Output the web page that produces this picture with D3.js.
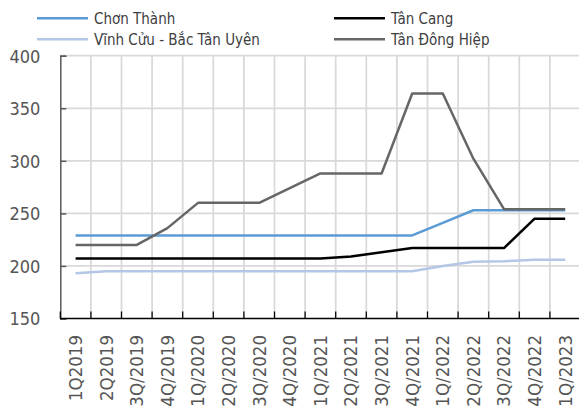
<!DOCTYPE html>
<html>
<head>
<meta charset="utf-8">
<script src="https://cdn.jsdelivr.net/npm/d3@7"></script>
<style>
  body { margin: 0; background: #fff; }
  svg { display: block; }
  text { font-family: "DejaVu Sans Condensed", "DejaVu Sans", sans-serif; font-stretch: condensed; }
</style>
</head>
<body>
<svg id="chart" width="579" height="407"></svg>
<script>
// Quarterly land rental prices by industrial park
const quarters = ["1Q2019", "2Q2019", "3Q/2019", "4Q/2019", "1Q/2020", "2Q/2020", "3Q/2020", "4Q/2020",
  "1Q/2021", "2Q/2021", "3Q/2021", "4Q/2021", "1Q/2022", "2Q/2022", "3Q/2022", "4Q/2022", "1Q/2023"];

const chonThanh = [229, 229, 229, 229, 229, 229, 229, 229, 229, 229, 229, 229, 241, 253, 253, 253, 253];
const tanCang = [207, 207, 207, 207, 207, 207, 207, 207, 207, 209, 213, 217, 217, 217, 217, 245, 245];
const vinhCuu = [193, 195, 195, 195, 195, 195, 195, 195, 195, 195, 195, 195, 200, 204, 204.5, 206, 206];
const tanDongHiep = [220, 220, 220, 236, 260, 260, 260, 274, 288, 288, 288, 364, 364, 302, 254, 254, 254];

const seriesNames = ["Chơn Thành", "Tân Cang", "Vĩnh Cửu - Bắc Tân Uyên", "Tân Đông Hiệp"];
const seriesValues = [chonThanh, tanCang, vinhCuu, tanDongHiep];
const seriesColors = ["#5b9bd5", "#000000", "#b4c7e7", "#666666"];

const yTicks = [150, 200, 250, 300, 350, 400];

const svg = d3.select("#chart");
const W = 579;
const plotLeft = 60.3, plotTop = 55.7, plotBottom = 318.5, step = 30.6;

const x = d3.scaleBand().domain(quarters).range([plotLeft, plotLeft + step * quarters.length]).padding(0);
const y = d3.scaleLinear().domain([150, 400]).range([plotBottom, plotTop]);

// horizontal gridlines
svg.append("g").selectAll("line").data(yTicks.slice(1)).join("line")
  .attr("x1", plotLeft).attr("x2", W)
  .attr("y1", d => y(d)).attr("y2", d => y(d))
  .attr("stroke", "#d9d9d9").attr("stroke-width", 1.75);

// vertical gridlines at category boundaries
svg.append("g").selectAll("line").data(quarters.slice(1)).join("line")
  .attr("x1", d => x(d)).attr("x2", d => x(d))
  .attr("y1", plotTop).attr("y2", plotBottom)
  .attr("stroke", "#d9d9d9").attr("stroke-width", 1.75);

// y axis
const yAxis = svg.append("g")
  .attr("transform", `translate(${plotLeft},0)`)
  .call(d3.axisRight(y).tickValues(yTicks).tickSize(6).tickFormat(d3.format("d")));
yAxis.select(".domain").attr("stroke", "#595959").attr("stroke-width", 1.5);
yAxis.selectAll(".tick line").attr("stroke", "#595959").attr("stroke-width", 1.5);
yAxis.selectAll(".tick text")
  .attr("x", -20).attr("text-anchor", "end").attr("dy", "0.35em")
  .attr("fill", "#555555").style("font-size", "18px");

// x axis with ticks at category boundaries
const xAxis = svg.append("g").attr("transform", `translate(0,${plotBottom})`);
xAxis.append("line").attr("x1", plotLeft).attr("x2", W).attr("y1", 0).attr("y2", 0)
  .attr("stroke", "#000").attr("stroke-width", 1.5);
xAxis.selectAll("line.tk").data(quarters).join("line").attr("class", "tk")
  .attr("x1", d => x(d)).attr("x2", d => x(d)).attr("y1", 0).attr("y2", -7)
  .attr("stroke", "#000").attr("stroke-width", 1.25);
xAxis.selectAll("text").data(quarters).join("text")
  .attr("transform", d => `translate(${x(d) + x.bandwidth() / 2},16.5) rotate(-90)`)
  .attr("text-anchor", "end").attr("dy", "0.35em")
  .attr("fill", "#555555").style("font-size", "18.5px")
  .text(d => d);

// series lines
const line = d3.line()
  .x((d, i) => x(quarters[i]) + x.bandwidth() / 2)
  .y(d => y(d));
svg.append("g").selectAll("path").data(seriesValues).join("path")
  .attr("d", d => line(d))
  .attr("fill", "none")
  .attr("stroke", (d, i) => seriesColors[i])
  .attr("stroke-width", 2.5)
  .attr("stroke-linejoin", "round");

// legend (two columns, two rows)
const legendPos = [[37, 18.3], [334, 18.3], [37, 39.3], [334, 39.3]];
const legend = svg.append("g").selectAll("g").data(seriesNames).join("g")
  .attr("transform", (d, i) => `translate(${legendPos[i][0]},${legendPos[i][1]})`);
legend.append("line").attr("x1", 0).attr("x2", 51).attr("y1", 0).attr("y2", 0)
  .attr("stroke", (d, i) => seriesColors[i]).attr("stroke-width", 2.5);
legend.append("text").attr("x", 57).attr("dy", "0.35em")
  .attr("fill", "#404040").style("font-size", "15px")
  .text(d => d);
</script>
</body>
</html>
